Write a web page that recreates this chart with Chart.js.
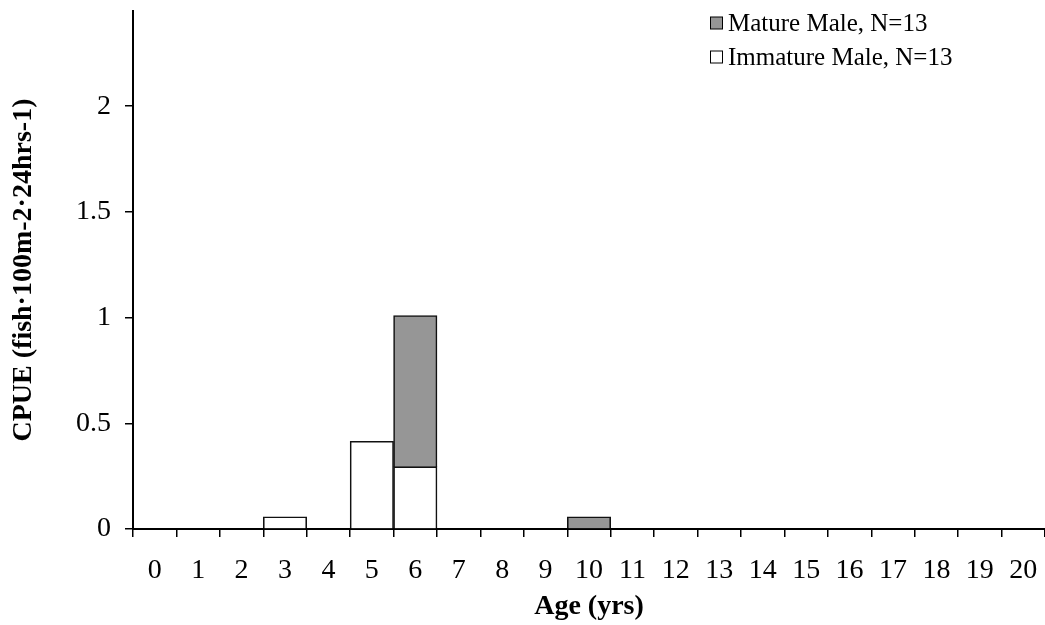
<!DOCTYPE html>
<html>
<head>
<meta charset="utf-8">
<script src="https://cdn.jsdelivr.net/npm/chart.js@4.4.1/dist/chart.umd.min.js"></script>
<style>
  html, body { margin: 0; padding: 0; background: #fff; }
  #wrap { width: 1045px; height: 625px; }
</style>
</head>
<body>
<div id="wrap"><canvas id="grafCpue" width="1045" height="625"></canvas></div>
<script>
const vekLabels = ["0","1","2","3","4","5","6","7","8","9","10","11","12","13","14","15","16","17","18","19","20"];
const nedospeli = [0, 0, 0, 0.058, 0, 0.415, 0.295, 0, 0, 0, 0, 0, 0, 0, 0, 0, 0, 0, 0, 0, 0];
const dospeli   = [0, 0, 0, 0, 0, 0, 0.715, 0, 0, 0, 0.058, 0, 0, 0, 0, 0, 0, 0, 0, 0, 0];
const yTicks = [0, 0.5, 1, 1.5, 2];
const legendNames = ["Mature Male, N=13", "Immature Male, N=13"];

const serif = "'Liberation Serif', 'Times New Roman', serif";

// legenda vpravo nahore v ploše grafu
const legendaPlugin = {
    id: "legenda",
    afterDraw: function(chart) {
        const ctx = chart.ctx;
        const items = [
            { text: legendNames[0], fill: chart.data.datasets[1].backgroundColor },
            { text: legendNames[1], fill: chart.data.datasets[0].backgroundColor }
        ];
        ctx.save();
        ctx.font = "25px " + serif;
        ctx.textBaseline = "middle";
        items.forEach(function(it, i) {
            const y = 23.5 + i * 34;
            ctx.fillStyle = it.fill;
            ctx.fillRect(710.5, y - 6.5, 12, 12);
            ctx.strokeStyle = "#000";
            ctx.lineWidth = 1;
            ctx.strokeRect(710.5, y - 6.5, 12, 12);
            ctx.fillStyle = "#000";
            ctx.fillText(it.text, 728, y + 1);
        });
        ctx.restore();
    }
};

window.addEventListener("DOMContentLoaded", function() {
    const ctx = document.getElementById("grafCpue").getContext("2d");
    new Chart(ctx, {
        type: "bar",
        data: {
            labels: vekLabels,
            datasets: [
                { label: legendNames[1], data: nedospeli, backgroundColor: "#ffffff", borderColor: "#111", borderWidth: 1.6, barPercentage: 1, categoryPercentage: 1 },
                { label: legendNames[0], data: dospeli, backgroundColor: "#969696", borderColor: "#111", borderWidth: 1.6, barPercentage: 1, categoryPercentage: 1 }
            ]
        },
        options: {
            responsive: false,
            animation: false,
            layout: { padding: { top: 11, left: 0, right: 0, bottom: 0 } },
            plugins: { legend: { display: false }, tooltip: { enabled: false } },
            scales: {
                x: {
                    stacked: true,
                    offset: true,
                    grid: { offset: true, drawOnChartArea: false, drawTicks: true, tickLength: 8, color: "#000", lineWidth: 1.5 },
                    border: { display: true, color: "#000", width: 2 },
                    ticks: { color: "#000", font: { family: serif, size: 28 }, padding: 17, maxRotation: 0, autoSkip: false },
                    title: { display: true, text: "Age (yrs)", color: "#000", font: { family: serif, size: 28, weight: "bold" }, padding: { top: 0, bottom: 1 } },
                    afterFit: function(scale) { scale.height = 96; scale.paddingLeft = 0; scale.paddingRight = 0; }
                },
                y: {
                    stacked: true,
                    min: 0,
                    max: 2.45,
                    grid: { drawOnChartArea: false, drawTicks: true, tickLength: 8, color: "#000", lineWidth: 1.5 },
                    border: { display: true, color: "#000", width: 2 },
                    ticks: { color: "#000", font: { family: serif, size: 28 }, padding: 14, callback: function(v) { return String(v); } },
                    afterBuildTicks: function(scale) { scale.ticks = yTicks.map(function(v) { return { value: v }; }); },
                    title: { display: true, text: "CPUE (fish·100m-2·24hrs-1)", color: "#000", font: { family: serif, size: 28, weight: "bold" }, padding: { top: 7, bottom: 0 } },
                    afterFit: function(scale) { scale.width = 133; scale.paddingTop = 0; scale.paddingBottom = 0; }
                }
            }
        },
        plugins: [legendaPlugin]
    });
});
</script>
</body>
</html>
